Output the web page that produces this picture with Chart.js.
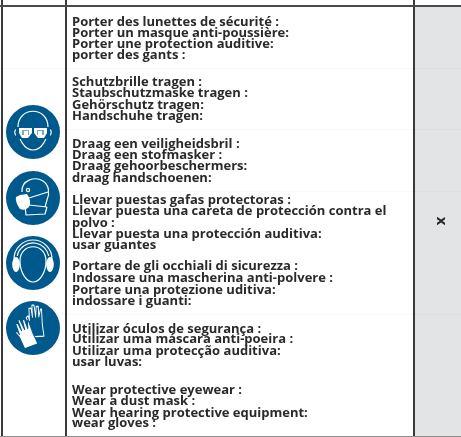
<!DOCTYPE html>
<html>
<head>
<meta charset="utf-8">
<style>
  html, body { margin: 0; padding: 0; background: #fff; }
  canvas { display: block; }
</style>
<script src="https://cdn.jsdelivr.net/npm/chart.js@4/dist/chart.umd.min.js"></script>
</head>
<body>
<canvas id="sheet" width="461" height="437"></canvas>
<script>
/* =========================
   DATA
========================= */
const textLines = [
  "Porter des lunettes de sécurité :",
  "Porter un masque anti-poussière:",
  "Porter une protection auditive:",
  "porter des gants :",
  "Schutzbrille tragen :",
  "Staubschutzmaske tragen :",
  "Gehörschutz tragen:",
  "Handschuhe tragen:",
  "Draag een veiligheidsbril :",
  "Draag een stofmasker :",
  "Draag gehoorbeschermers:",
  "draag handschoenen:",
  "Llevar puestas gafas protectoras :",
  "Llevar puesta una careta de protección contra el",
  "polvo :",
  "Llevar puesta una protección auditiva:",
  "usar guantes",
  "Portare de gli occhiali di sicurezza :",
  "Indossare una mascherina anti-polvere :",
  "Portare una protezione uditiva:",
  "indossare i guanti:",
  "Utilizar óculos de segurança :",
  "Utilizar uma máscara anti-poeira :",
  "Utilizar uma protecção auditiva:",
  "usar luvas:",
  "Wear protective eyewear :",
  "Wear a dust mask :",
  "Wear hearing protective equipment:",
  "wear gloves :"
];
const lineRows = [26, 37, 48, 59, 86, 97, 109, 120, 148, 159, 170, 182, 204, 215, 227, 238, 249, 270, 282, 294, 305, 333, 343, 355, 366, 394, 405, 417, 427];
const columnEdges = [2, 66, 414];
const rowEdges = [6, 68, 129, 191, 314, 436];
const iconNames = ["goggles", "mask", "earmuffs", "gloves"];
const iconRows = [132, 198, 263, 328];
const markText = "x";

const BLUE = "#00598c";

/* =========================
   ICONS
========================= */
function face(c) {
  c.beginPath();
  c.moveTo(-15, -5);
  c.bezierCurveTo(-15, -26, 15, -26, 15, -5);
  c.bezierCurveTo(15, 8, 8, 18, 0, 18);
  c.bezierCurveTo(-8, 18, -15, 8, -15, -5);
  c.closePath();
}

function drawGoggles(c) {
  face(c);
  c.stroke();
  // ears
  c.beginPath();
  c.moveTo(-15, -3); c.quadraticCurveTo(-19, -3, -18, 2); c.lineTo(-14, 7);
  c.moveTo(15, -3); c.quadraticCurveTo(19, -3, 18, 2); c.lineTo(14, 7);
  c.stroke();
  // lenses
  c.fillStyle = BLUE;
  c.fillRect(-17, -5, 34, 12);
  c.fillStyle = "#fff";
  c.beginPath();
  c.moveTo(-14, -4); c.lineTo(-1, -4); c.lineTo(-1, 1); c.lineTo(-5, 6); c.lineTo(-11, 6); c.lineTo(-14, 1);
  c.closePath();
  c.moveTo(14, -4); c.lineTo(1, -4); c.lineTo(1, 1); c.lineTo(5, 6); c.lineTo(11, 6); c.lineTo(14, 1);
  c.closePath();
  c.fill();
  c.fillStyle = "#7fa9c4";
  c.fillRect(-11, -2, 7, 5);
  c.fillRect(4, -2, 7, 5);
  c.fillStyle = "#fff";
  c.fillRect(-9, -1, 4, 5);
  c.fillRect(5, -1, 4, 5);
}

function drawMask(c) {
  // head
  c.beginPath();
  c.moveTo(-11, -6);
  c.bezierCurveTo(-12, -18, 2, -22, 10, -17);
  c.bezierCurveTo(16, -13, 17, -5, 14, 2);
  c.lineTo(12, 9);
  c.moveTo(14, 9);
  c.lineTo(12, 16);
  c.lineTo(-7, 17);
  c.lineTo(-8, 8);
  c.stroke();
  c.beginPath();
  c.arc(-5, -8, 1.6, 0, Math.PI * 2);
  c.stroke();
  // straps
  c.beginPath();
  c.moveTo(-4, 0); c.lineTo(15, -6);
  c.moveTo(-4, 7); c.lineTo(14, 9);
  c.stroke();
  // mask
  c.beginPath();
  c.moveTo(-13, -3);
  c.lineTo(-6, -4);
  c.quadraticCurveTo(-1, 3, -4, 9);
  c.quadraticCurveTo(-8, 13, -13, 11);
  c.quadraticCurveTo(-18, 4, -17, -1);
  c.closePath();
  c.fill();
}

function drawEarmuffs(c) {
  // head
  c.beginPath();
  c.moveTo(-13, -2);
  c.bezierCurveTo(-13, -21, 13, -21, 13, -2);
  c.bezierCurveTo(13, 9, 7, 19, 0, 19);
  c.bezierCurveTo(-7, 19, -13, 9, -13, -2);
  c.closePath();
  c.stroke();
  // band
  c.beginPath();
  c.arc(0, -4, 16, Math.PI * 1.06, Math.PI * 1.94);
  c.moveTo(-19, -4);
  c.arc(0, -4, 19, Math.PI, Math.PI * 2);
  c.stroke();
  // cups
  c.fillStyle = "#fff";
  c.beginPath();
  c.ellipse(-17, 1.5, 3.8, 7.5, 0, 0, Math.PI * 2);
  c.ellipse(17, 1.5, 3.8, 7.5, 0, 0, Math.PI * 2);
  c.fill();
}

function glovePath(c) {
  c.beginPath();
  c.moveTo(-6, 8);
  c.lineTo(-7, -1);
  c.lineTo(-9, -5);
  c.lineTo(-7, -6);
  c.lineTo(-6, -3);
  c.lineTo(-6, -11);
  c.lineTo(-4, -11);
  c.lineTo(-3, -5);
  c.lineTo(-3, -13);
  c.lineTo(-1, -13);
  c.lineTo(0, -5);
  c.lineTo(1, -12);
  c.lineTo(3, -12);
  c.lineTo(3, -5);
  c.lineTo(5, -10);
  c.lineTo(6, -10);
  c.lineTo(6, 0);
  c.lineTo(7, 8);
  c.closePath();
}

function drawGloves(c) {
  // outlined glove
  c.save();
  c.translate(3, -3.5);
  c.rotate(-0.05);
  c.scale(1.05, 1.5);
  c.lineWidth = 0.9;
  glovePath(c);
  c.stroke();
  c.restore();
  // filled glove
  c.save();
  c.translate(-6, 8);
  c.rotate(-0.35);
  c.scale(1.1, 1.4);
  c.strokeStyle = BLUE;
  c.lineWidth = 1;
  glovePath(c);
  c.fill();
  c.stroke();
  c.restore();
}

const iconPainters = { goggles: drawGoggles, mask: drawMask, earmuffs: drawEarmuffs, gloves: drawGloves };

function makeIcon(name) {
  const cv = document.createElement("canvas");
  cv.width = 54;
  cv.height = 54;
  const c = cv.getContext("2d");
  c.translate(27, 27);
  c.fillStyle = BLUE;
  c.beginPath();
  c.arc(0, 0, 27, 0, Math.PI * 2);
  c.fill();
  c.strokeStyle = "#fff";
  c.fillStyle = "#fff";
  c.lineWidth = 1.2;
  c.lineJoin = "round";
  iconPainters[name](c);
  return cv;
}

/* =========================
   TEXT + GREY COLUMN
========================= */
const sheetPlugin = {
  id: "sheet",
  beforeDraw(chart) {
    const { ctx, scales: { x, y } } = chart;
    ctx.save();
    ctx.fillStyle = "#e3e4e5";
    ctx.fillRect(x.getPixelForValue(columnEdges[2]), y.getPixelForValue(rowEdges[0]),
      x.getPixelForValue(x.max) - x.getPixelForValue(columnEdges[2]),
      y.getPixelForValue(rowEdges[rowEdges.length - 1]) - y.getPixelForValue(rowEdges[0]));
    ctx.restore();
  },
  afterDatasetsDraw(chart) {
    const { ctx, scales: { x, y } } = chart;
    ctx.save();
    ctx.fillStyle = "#2b2a29";
    ctx.textAlign = "left";
    ctx.textBaseline = "alphabetic";
    ctx.font = 'bold 13px "Open Sans"';
    textLines.forEach((line, i) => {
      ctx.fillText(line, x.getPixelForValue(72), y.getPixelForValue(lineRows[i]));
    });
    // rotated mark in the grey column
    ctx.translate(x.getPixelForValue(441), y.getPixelForValue(221));
    ctx.rotate(Math.PI / 2);
    ctx.textAlign = "center";
    ctx.textBaseline = "middle";
    ctx.font = 'bold 15px "Open Sans"';
    ctx.fillText(markText, 0, 0);
    ctx.restore();
  }
};

/* =========================
   CHART
========================= */
new Chart(document.getElementById("sheet"), {
  type: "scatter",
  plugins: [sheetPlugin],
  data: {
    datasets: [{
      data: iconRows.map(row => ({ x: 33, y: row })),
      pointStyle: iconNames.map(makeIcon),
      pointRadius: 27,
      clip: false
    }]
  },
  options: {
    responsive: false,
    animation: false,
    events: [],
    layout: { padding: 0, autoPadding: false },
    plugins: { legend: { display: false }, tooltip: { enabled: false } },
    scales: {
      x: {
        type: "linear",
        min: 0,
        max: 461,
        afterBuildTicks: axis => { axis.ticks = columnEdges.map(value => ({ value })); },
        ticks: { display: false },
        border: { display: false },
        grid: { color: "#3a3a3a", lineWidth: 2, drawTicks: false }
      },
      y: {
        type: "linear",
        reverse: true,
        min: 0,
        max: 437,
        afterBuildTicks: axis => { axis.ticks = rowEdges.map(value => ({ value })); },
        ticks: { display: false },
        border: { display: false },
        grid: {
          drawTicks: false,
          color: ctx => (ctx.index === 0 ? "#4a4a4a" : ctx.index === rowEdges.length - 1 ? "#8d8d8d" : "rgba(0,0,0,0.025)"),
          lineWidth: ctx => (ctx.index === 0 ? 2 : 1)
        }
      }
    }
  }
});
</script>
</body>
</html>
